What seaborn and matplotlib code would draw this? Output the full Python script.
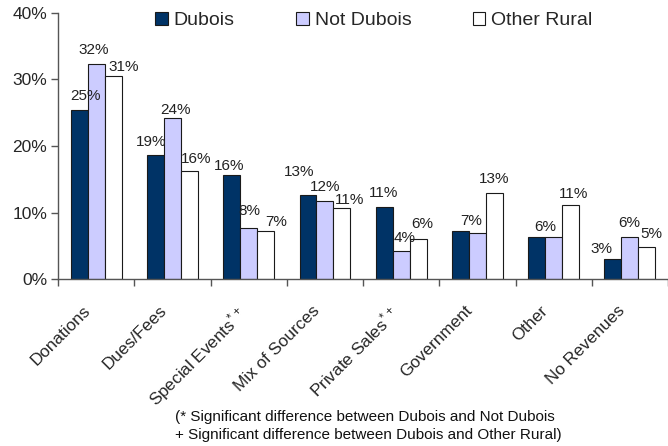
import matplotlib
matplotlib.use("Agg")
import matplotlib.pyplot as plt
import matplotlib.transforms as mtransforms
import seaborn as sns
import pandas as pd
from matplotlib.ticker import FixedLocator, FuncFormatter

# Revenue sources, share of organizations (%)
categories = ["Donations", "Dues/Fees", "Special Events *+", "Mix of Sources",
              "Private Sales *+", "Government", "Other", "No Revenues"]
tick_labels = ["Donations", "Dues/Fees", "Special Events$^{*\\,+}$", "Mix of Sources",
               "Private Sales$^{*\\,+}$", "Government", "Other", "No Revenues"]
groups = ["Dubois", "Not Dubois", "Other Rural"]
dubois = [25.4, 18.6, 15.6, 12.6, 10.9, 7.3, 6.4, 3.1]
not_dubois = [32.3, 24.2, 7.7, 11.7, 4.3, 6.9, 6.4, 6.4]
other_rural = [30.6, 16.3, 7.3, 10.7, 6.0, 12.9, 11.1, 4.9]
y_ticks = [0, 10, 20, 30, 40]
footnote_lines = ["(* Significant difference between Dubois and Not Dubois",
                  "+ Significant difference between Dubois and Other Rural)"]

df = pd.DataFrame({
    "source": categories * 3,
    "group": [g for g in groups for _ in categories],
    "pct": dubois + not_dubois + other_rural,
})

sns.set_style("white")
plt.rcParams["font.family"] = ["Liberation Sans", "DejaVu Sans"]
plt.rcParams["mathtext.fontset"] = "custom"
plt.rcParams["mathtext.rm"] = "Liberation Sans"
plt.rcParams["mathtext.it"] = "Liberation Sans"

fig = plt.figure(figsize=(6.68, 4.46), dpi=100)
ax = fig.add_axes([0.087, 0.374, 0.913, 0.597])

palette = {"Dubois": "#003366", "Not Dubois": "#CCCCFF", "Other Rural": "#FFFFFF"}
sns.barplot(data=df, x="source", y="pct", hue="group", order=categories,
            hue_order=groups, palette=palette, width=0.667,
            edgecolor="#1a1a1a", linewidth=0.8, saturation=1, ax=ax,
            legend=True)

ax.set_xlim(-0.5, len(categories) - 0.5)
ax.set_ylim(0, 40)

# Label nudges (pixels: right, up) so crowded value labels stagger
nudges = [
    [(6, 2), (-4, 0.5), (-2.5, -3), (-9, 11), (-1, 1.5), (10.5, -3), (8.5, -2.5), (-11, -2.5)],
    [(-3, 2), (3.5, -4.5), (1, 4), (0.5, 2), (3.5, 0), (-6.5, -0.5), (-8.5, -2.5), (-1, 1.5)],
    [(11, -3.5), (6.5, -0.5), (10.5, -4), (8, -5), (4.5, 3), (-0.5, 1.5), (3, -1), (5, 0)],
]
fig.canvas.draw()
placed = []
for cont, nud in zip(ax.containers, nudges):
    for bar, (dx, dy) in zip(cont, nud):
        v = bar.get_height()
        x = bar.get_x() + bar.get_width() / 2
        text = f"{round(v)}%"
        px, py = ax.transData.transform((x, v))
        fx, fy = px + dx, py + 12.5 + dy
        # identical labels that land on the same spot are drawn once
        if any(t == text and abs(fx - qx) < 2 and abs(fy - qy) < 2
               for t, qx, qy in placed):
            continue
        placed.append((text, fx, fy))
        ax.annotate(text, (x, v), xytext=(dx, 12.5 + dy), textcoords="offset pixels",
                    ha="center", va="center", fontsize=11, color="#222222")

ax.set_yticks(y_ticks)
ax.yaxis.set_major_formatter(FuncFormatter(lambda v, _: f"{v:.0f}%"))
ax.tick_params(axis="y", labelsize=12.5, length=5, width=1, direction="out",
               left=True, color="#555555", pad=3)

ax.set_xticks(range(len(categories)))
ax.set_xticklabels(tick_labels, rotation=45, ha="right",
                   rotation_mode="anchor", fontsize=12.3)
ax.tick_params(axis="x", which="major", length=0, pad=17)
shift = mtransforms.ScaledTranslation(-13 / 100, 0, fig.dpi_scale_trans)
for lab in ax.get_xticklabels():
    lab.set_transform(lab.get_transform() + shift)
ax.xaxis.set_minor_locator(FixedLocator([i - 0.5 for i in range(len(categories) + 1)]))
ax.tick_params(axis="x", which="minor", length=5, width=1, bottom=True,
               direction="out", color="#555555")

ax.set_xlabel("")
ax.set_ylabel("")
for side in ("top", "right"):
    ax.spines[side].set_visible(False)
for side in ("left", "bottom"):
    ax.spines[side].set_color("#555555")
    ax.spines[side].set_linewidth(1)

ax.legend(ncol=3, loc="center left", bbox_to_anchor=(155 / 668, 1 - 20.5 / 446),
          bbox_transform=fig.transFigure, frameon=False, fontsize=14,
          handlelength=0.66, handleheight=0.66, handletextpad=0.3,
          columnspacing=3.15, borderpad=0, borderaxespad=0)

for line, ypix in zip(footnote_lines, (417, 435)):
    fig.text(175 / 668, 1 - ypix / 446, line, fontsize=11, ha="left",
             va="center", color="#111111")

fig.savefig("out.png", dpi=100)
